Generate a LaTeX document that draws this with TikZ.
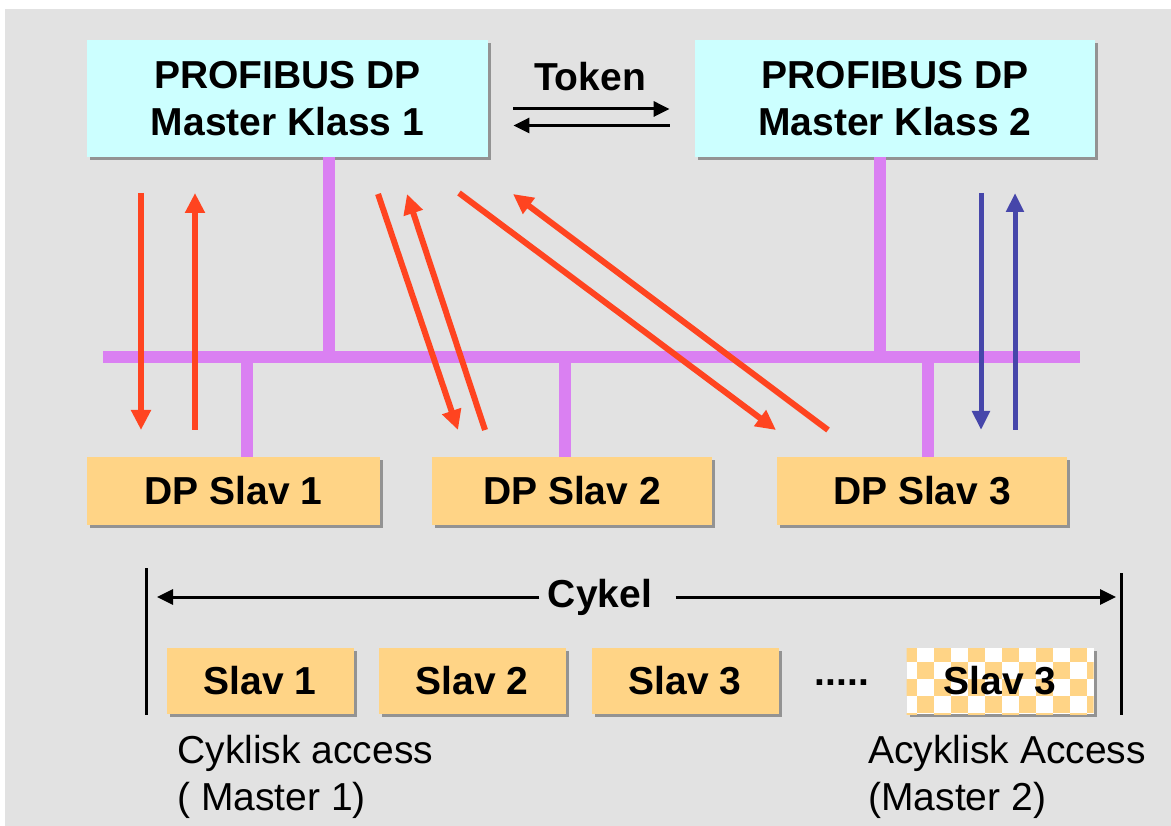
\documentclass[tikz,border=0pt]{standalone}
\usepackage{fontspec}
\setmainfont{Liberation Sans}
\usetikzlibrary{positioning,arrows.meta,shadows,calc}

\definecolor{panel}{HTML}{E2E2E2}
\definecolor{mastercol}{HTML}{CCFFFF}
\definecolor{slavecol}{HTML}{FFD486}
\definecolor{buscol}{HTML}{DA80F2}
\definecolor{reqcol}{HTML}{FF4420}
\definecolor{acycol}{HTML}{4646AA}

\begin{document}
\begin{tikzpicture}[x=1pt, y=-1pt, line width=0.75pt,
    every node/.style={font=\fontsize{39}{47}\selectfont},
    bold/.style={font=\fontsize{39}{47}\selectfont\bfseries},
    box/.style={rectangle, inner sep=0pt, align=center, bold,
      drop shadow={shadow xshift=3pt, shadow yshift=-3pt, fill=black, opacity=0.35}},
    master/.style={box, fill=mastercol, minimum width=401pt, minimum height=117pt},
    slave/.style={box, fill=slavecol, minimum width=290pt, minimum height=68pt},
    slot/.style={box, fill=slavecol, minimum width=187pt, minimum height=66pt},
    checker/.style={fill=white, path picture={
        \foreach \i in {0,...,11}{\foreach \j in {0,...,4}{
          \pgfmathtruncatemacro\k{mod(\i+\j,2)}
          \ifnum\k=0
            \fill[slavecol] ($(path picture bounding box.north west)+(\i*17-7,\j*17-3)$) rectangle ++(17,17);
          \fi}}}},
    bus/.style={buscol, line width=12pt},
    req/.style={reqcol, line width=6pt, -{Triangle[length=20pt,width=19pt]}},
    acy/.style={acycol, line width=5pt, -{Triangle[length=19pt,width=17pt]}},
    tok/.style={black, line width=3pt, -{Triangle[length=16pt,width=15pt]}}]

  \fill[white] (0,0) rectangle (1171,826);
  \fill[panel] (5,9) rectangle (1171,826);
  \useasboundingbox (0,0) rectangle (1171,826);

  % masters and token passing
  \node[master] (m1) at (287.5,98.5) {PROFIBUS DP\\Master Klass 1};
  \node[master, minimum width=400pt] (m2) at (895,98.5) {PROFIBUS DP\\Master Klass 2};
  \node[bold] (token) at (590,77) {Token};
  \draw[tok] ([shift={(25,10.5)}]m1.east) -- ([shift={(-25,10.5)}]m2.west);
  \draw[tok] ([shift={(-25,27)}]m2.west) -- ([shift={(25,27)}]m1.east);

  % slaves
  \node[slave, minimum width=293pt] (s1) at (233.5,491) {DP Slav 1};
  \node[slave, minimum width=280pt] (s2) at (572,491) {DP Slav 2};
  \node[slave] (s3) at (922,491) {DP Slav 3};

  % bus line with drops
  \coordinate (busL) at (103,357);
  \coordinate (busR) at (1080,357);
  \draw[bus] (busL) -- (busR);
  \draw[bus] ([xshift=41.5pt]m1.south) -- ([xshift=41.5pt]m1.south |- busL);
  \draw[bus] ([xshift=-15pt]m2.south) -- ([xshift=-15pt]m2.south |- busL);
  \draw[bus] ([xshift=13.5pt]s1.north) -- ([xshift=13.5pt]s1.north |- busL);
  \draw[bus] ([xshift=-7pt]s2.north) -- ([xshift=-7pt]s2.north |- busL);
  \draw[bus] ([xshift=6pt]s3.north) -- ([xshift=6pt]s3.north |- busL);

  % request / response arrows
  \coordinate (a1) at (141,193);  \coordinate (a2) at (141,430);
  \coordinate (b1) at (195,430);  \coordinate (b2) at (195,193);
  \coordinate (c1) at (378,194);  \coordinate (c2) at (458,430);
  \coordinate (d1) at (485,430);  \coordinate (d2) at (407,194);
  \coordinate (e1) at (459,193);  \coordinate (e2) at (776,430);
  \coordinate (f1) at (828,430);  \coordinate (f2) at (513,194);
  \coordinate (g1) at (981,193);  \coordinate (g2) at (981,430);
  \coordinate (h1) at (1015,430); \coordinate (h2) at (1015,193);
  \draw[req] (a1) -- (a2);
  \draw[req] (b1) -- (b2);
  \draw[req] (c1) -- (c2);
  \draw[req] (d1) -- (d2);
  \draw[req] (e1) -- (e2);
  \draw[req] (f1) -- (f2);
  \draw[acy] (g1) -- (g2);
  \draw[acy] (h1) -- (h2);

  % cycle
  \coordinate (cykL) at (146,568);  \coordinate (cykLb) at (146,715);
  \coordinate (cykR) at (1121,573); \coordinate (cykRb) at (1121,715);
  \draw[line width=3pt] (cykL) -- (cykLb);
  \draw[line width=3pt] (cykR) -- (cykRb);
  \node[bold] (cykel) at (600,597) {Cykel};
  \draw[tok] ([xshift=-5pt]cykel.west) -- ([xshift=11pt]cykel.west -| cykL);
  \draw[tok] ([xshift=20pt]cykel.east) -- ([xshift=-5pt]cykel.east -| cykR);

  \node[slot] (t1) at (260,681) {Slav 1};
  \node[slot] (t2) at (472,681) {Slav 2};
  \node[slot] (t3) at (685,681) {Slav 3};
  \node[bold] (dots) at (842,683) {.....};
  \node[slot, checker] (t4) at (1000,681) {Slav 3};

  % the base of a two-line node is its last line
  \node[anchor=base west, align=left, inner sep=0pt] (cyc) at (177,810) {Cyklisk access\\( Master 1)};
  \node[anchor=base west, align=left, inner sep=0pt] (acyc) at (868,810) {Acyklisk Access\\(Master 2)};
\end{tikzpicture}
\end{document}
